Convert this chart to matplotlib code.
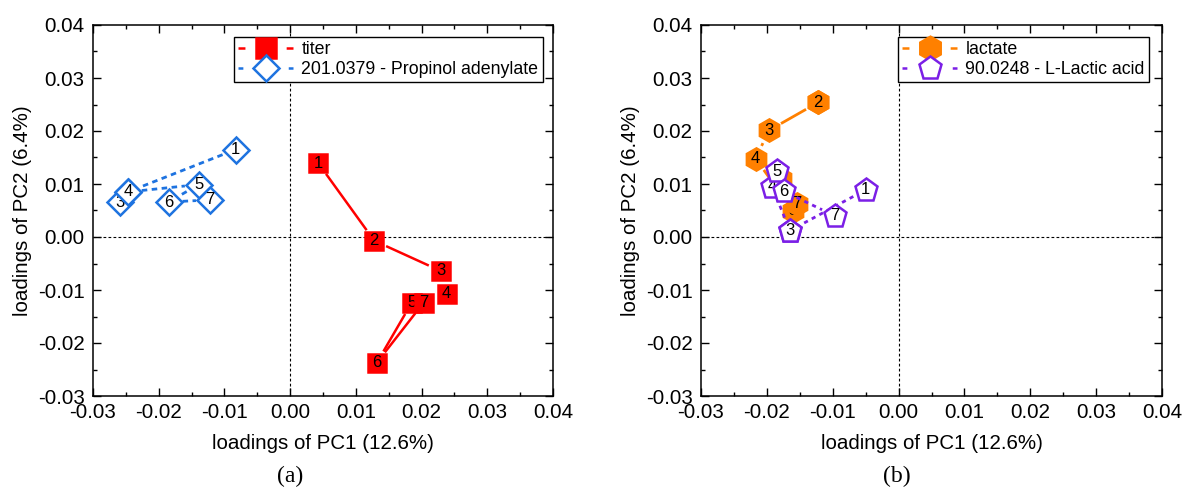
import numpy as np
import matplotlib
matplotlib.use("Agg")
import matplotlib.pyplot as plt
from matplotlib.lines import Line2D
from matplotlib.ticker import MultipleLocator, FormatStrFormatter

# ---------------- data ----------------
point_labels = ["1", "2", "3", "4", "5", "6", "7"]

titer_x = [0.0043, 0.0128, 0.0229, 0.0238, 0.0185, 0.0132, 0.0203]
titer_y = [0.0139, -0.0007, -0.0064, -0.0107, -0.0124, -0.0237, -0.0124]

propinol_x = [-0.0083, -0.0247, -0.0259, -0.0247, -0.0139, -0.0185, -0.0122]
propinol_y = [0.0165, 0.0085, 0.0066, 0.0085, 0.0099, 0.0066, 0.0070]

lactate_x = [-0.0122, -0.0122, -0.0197, -0.0217, -0.0161, -0.0179, -0.0154]
lactate_y = [0.0254, 0.0254, 0.0201, 0.0148, 0.0050, 0.0110, 0.0063]

lactic_x = [-0.0050, -0.0165, -0.0165, -0.0192, -0.0184, -0.0174, -0.0097]
lactic_y = [0.0089, 0.0012, 0.0012, 0.0095, 0.0124, 0.0086, 0.0040]

x_ticks = [-0.03, -0.02, -0.01, 0.00, 0.01, 0.02, 0.03, 0.04]
y_ticks = [-0.03, -0.02, -0.01, 0.00, 0.01, 0.02, 0.03, 0.04]

xlabel = "loadings of PC1 (12.6%)"
ylabel = "loadings of PC2 (6.4%)"

plt.rcParams['font.family'] = ['Liberation Sans', 'DejaVu Sans']

fig = plt.figure(figsize=(11.82, 4.91), dpi=100)
W, H = 1182, 491


def make_ax(x0, x1, ytop, ybot):
    return fig.add_axes([x0 / W, (H - ybot) / H, (x1 - x0) / W, (ybot - ytop) / H])


axL = make_ax(93, 553, 25, 396)
axR = make_ax(701, 1162, 25, 396)


def style_ax(ax):
    ax.set_xlim(x_ticks[0], x_ticks[-1])
    ax.set_ylim(y_ticks[0], y_ticks[-1])
    ax.set_xticks(x_ticks)
    ax.set_yticks(y_ticks)
    ax.xaxis.set_minor_locator(MultipleLocator(0.005))
    ax.yaxis.set_minor_locator(MultipleLocator(0.005))
    ax.xaxis.set_major_formatter(FormatStrFormatter('%.2f'))
    ax.yaxis.set_major_formatter(FormatStrFormatter('%.2f'))
    ax.tick_params(which='both', direction='in', top=True, right=True,
                   width=1.0, labelsize=14.8, colors='black')
    ax.tick_params(which='major', length=6)
    ax.tick_params(which='minor', length=3)
    ax.tick_params(axis='x', pad=5)
    ax.tick_params(axis='y', pad=6)
    for s in ax.spines.values():
        s.set_linewidth(1.1)
    ax.axhline(0, color='black', lw=0.8, ls=(0, (2.5, 2)), zorder=1)
    ax.axvline(0, color='black', lw=0.8, ls=(0, (2.5, 2)), zorder=1)
    ax.set_xlabel(xlabel, fontsize=14.8, labelpad=9)
    ax.set_ylabel(ylabel, fontsize=14.8, labelpad=4)


style_ax(axL)
style_ax(axR)


def gap_line(ax, xs, ys, gap, z, **kw):
    pts = ax.transData.transform(np.column_stack([xs, ys]))
    inv = ax.transData.inverted()
    for i in range(len(pts) - 1):
        p, q = pts[i], pts[i + 1]
        d = q - p
        L = np.hypot(*d)
        if L <= 2 * gap:
            continue
        u = d / L
        a = inv.transform(p + u * gap)
        b = inv.transform(q - u * gap)
        ax.plot([a[0], b[0]], [a[1], b[1]], zorder=z, solid_capstyle='butt', **kw)


def series(ax, xs, ys, color, marker, ms, face, ls, lw, gap, z0):
    gap_line(ax, xs, ys, gap, z0, color=color, ls=ls, lw=lw)
    z = z0 + 1
    for x, y, lab in zip(xs, ys, point_labels):
        ax.plot([x], [y], marker=marker, ms=ms, mfc=face, mec=color,
                mew=1.8, ls='none', zorder=z)
        ax.text(x, y, lab, ha='center', va='center', fontsize=12,
                color='black', zorder=z + 0.5)
        z += 1
    return z


red = '#FF0000'
blue = '#1E73E0'
orange = '#FF8000'
purple = '#7B1FE6'

zl = series(axL, titer_x, titer_y, red, 's', 13, red, '-', 1.8, 13, 3)
series(axL, propinol_x, propinol_y, blue, 'D', 13, 'white', (0, (2, 1.6)), 2.0, 14, zl + 1)

zr = series(axR, lactate_x, lactate_y, orange, 'h', 16, orange, '-', 2.0, 14, 3)
series(axR, lactic_x, lactic_y, purple, 'p', 17, 'white', (0, (1.5, 1.6)), 2.0, 14, zr + 1)

LEG_FS = 12.8
LEG_HL = 3.1
LEG_LW = 1.8


def sym_dash(dash_pt):
    total = LEG_FS * LEG_HL
    return (0, (dash_pt / LEG_LW, (total - 2 * dash_pt) / LEG_LW))


def legend(ax, entries, anchor):
    handles = []
    for color, marker, ms, face, dash in entries:
        handles.append(Line2D([], [], color=color, marker=marker, ms=ms, mfc=face,
                              mec=color, mew=1.8, ls=sym_dash(dash), lw=LEG_LW))
    labels = [e for e in anchor[1]]
    leg = ax.legend(handles, labels, loc='upper right', bbox_to_anchor=anchor[0],
                    borderaxespad=0, fontsize=LEG_FS, frameon=True, fancybox=False,
                    edgecolor='black', framealpha=1, handlelength=LEG_HL,
                    handletextpad=0.45, labelspacing=0.15, borderpad=0.25)
    leg.get_frame().set_linewidth(1.0)
    leg.set_zorder(100)


legend(axL, [(red, 's', 14, red, 5.0),
             (blue, 'D', 13, 'white', 3.5)],
       ((0.978, 0.968), ["titer", "201.0379 - Propinol adenylate"]))
legend(axR, [(orange, 'h', 17, orange, 5.0),
             (purple, 'p', 17, 'white', 3.5)],
       ((0.972, 0.968), ["lactate", "90.0248 - L-Lactic acid"]))

fig.text(290 / W, 1 - 476 / H, "(a)", ha='center', va='center',
         fontsize=17, family=['Liberation Serif'])
fig.text(897 / W, 1 - 476 / H, "(b)", ha='center', va='center',
         fontsize=17, family=['Liberation Serif'])

fig.savefig("out.png", dpi=100)
